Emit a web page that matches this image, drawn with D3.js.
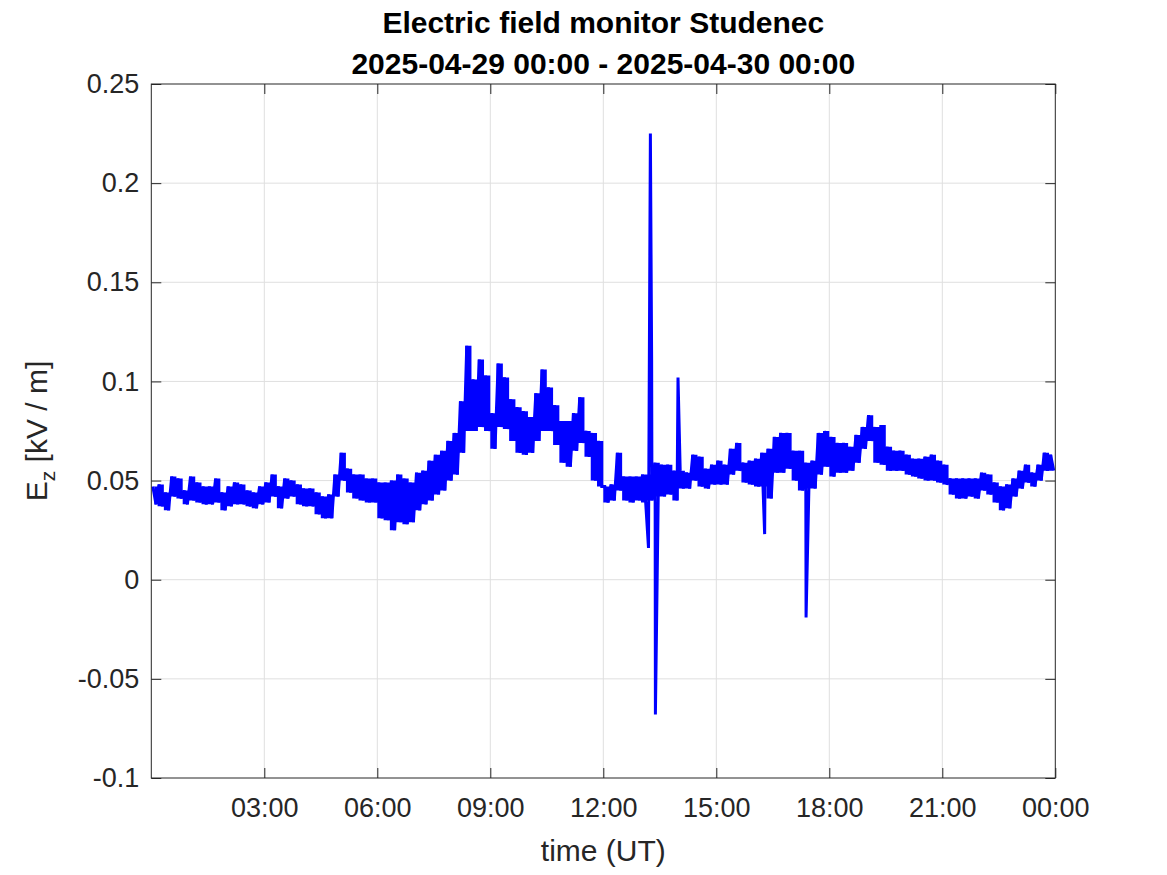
<!DOCTYPE html>
<html>
<head>
<meta charset="utf-8">
<script src="https://cdn.jsdelivr.net/npm/d3@7"></script>
<style>
  html, body { margin: 0; padding: 0; background: #fff; }
  svg { display: block; font-family: "Liberation Sans", Arial, Helvetica, sans-serif; }
</style>
</head>
<body>
<svg id="chart" width="1167" height="875"></svg>
<script>
// ---- Data ----
const titleLines = ["Electric field monitor Studenec", "2025-04-29 00:00 - 2025-04-30 00:00"];
const xLabel = "time (UT)";
const startTime = "2025-04-29T00:00:00Z";
const endTime = "2025-04-30T00:00:00Z";
const binMinutes = 10;   // each bin holds the upper and lower excursion of the Ez noise band

// Upper excursion of Ez per 10-minute bin (kV/m)
const ezHigh = [
  0.047,0.048,0.044,0.052,0.051,0.045,0.052,0.049,0.047,0.047,0.051,0.044,
  0.047,0.049,0.048,0.045,0.044,0.047,0.049,0.053,0.047,0.051,0.050,0.048,
  0.046,0.046,0.044,0.042,0.043,0.053,0.064,0.056,0.053,0.053,0.051,0.051,
  0.049,0.049,0.050,0.053,0.051,0.049,0.054,0.055,0.060,0.063,0.065,0.070,
  0.074,0.090,0.118,0.101,0.111,0.103,0.084,0.109,0.102,0.091,0.087,0.085,
  0.082,0.094,0.106,0.097,0.088,0.080,0.080,0.084,0.092,0.075,0.074,0.070,
  0.047,0.048,0.064,0.052,0.052,0.052,0.053,0.053,0.059,0.058,0.058,0.055,
  0.055,0.054,0.063,0.062,0.056,0.058,0.060,0.058,0.066,0.069,0.059,0.060,
  0.061,0.064,0.066,0.072,0.074,0.074,0.065,0.065,0.059,0.060,0.074,0.075,
  0.072,0.069,0.069,0.067,0.073,0.077,0.083,0.077,0.078,0.067,0.065,0.065,
  0.063,0.061,0.061,0.062,0.063,0.060,0.058,0.051,0.051,0.051,0.051,0.051,
  0.054,0.053,0.049,0.047,0.048,0.051,0.055,0.058,0.054,0.058,0.064,0.063
];
// Lower excursion of Ez per 10-minute bin (kV/m)
const ezLow = [
  0.038,0.037,0.035,0.042,0.041,0.038,0.040,0.039,0.038,0.038,0.039,0.035,
  0.037,0.038,0.038,0.037,0.036,0.038,0.039,0.042,0.036,0.041,0.042,0.038,
  0.037,0.037,0.033,0.031,0.031,0.042,0.050,0.044,0.041,0.040,0.039,0.039,
  0.031,0.030,0.025,0.029,0.028,0.029,0.035,0.038,0.040,0.043,0.045,0.050,
  0.053,0.064,0.075,0.075,0.077,0.075,0.066,0.077,0.076,0.070,0.064,0.063,
  0.064,0.070,0.075,0.075,0.068,0.059,0.057,0.065,0.069,0.062,0.050,0.047,
  0.039,0.040,0.045,0.040,0.039,0.040,0.039,0.040,0.042,0.042,0.043,0.040,
  0.046,0.046,0.050,0.047,0.046,0.048,0.048,0.048,0.053,0.055,0.049,0.048,
  0.047,0.047,0.041,0.054,0.054,0.056,0.050,0.045,0.046,0.046,0.053,0.057,
  0.052,0.054,0.054,0.055,0.059,0.066,0.070,0.059,0.058,0.055,0.055,0.055,
  0.053,0.052,0.051,0.050,0.050,0.049,0.048,0.043,0.041,0.041,0.042,0.041,
  0.045,0.043,0.039,0.035,0.036,0.042,0.046,0.049,0.047,0.050,0.055,0.055
];
// Isolated short excursions (UT time, kV/m)
const spikeTimes  = ["13:12", "13:15", "13:17", "13:23", "13:59", "16:17", "17:23"];
const spikeValues = [0.016, 0.225, 0.111, -0.068, 0.102, 0.023, -0.019];

const yTicks = [-0.1, -0.05, 0, 0.05, 0.1, 0.15, 0.2, 0.25];
const yTickLabels = ["-0.1", "-0.05", "0", "0.05", "0.1", "0.15", "0.2", "0.25"];
const yDomain = [-0.1, 0.25];

// ---- Layout ----
const svg = d3.select("#chart");
const L = 151.3, R = 1055.3, T = 84, B = 778;
const axisColor = "#262626";
const gridColor = "#dfdfdf";
const lineColor = "#0000ff";
const tickFont = 27;

const t0 = new Date(startTime), t1 = new Date(endTime);
const x = d3.scaleUtc().domain([t0, t1]).range([L, R]);
const y = d3.scaleLinear().domain(yDomain).range([B, T]);
const xTicks = d3.utcHour.every(3).range(new Date(+t0 + 1), new Date(+t1 + 1));
const fmt = d3.utcFormat("%H:%M");
const parseHM = d3.utcParse("%Y-%m-%d %H:%M");
const day = d3.utcFormat("%Y-%m-%d")(t0);

// band (one column per bin)
const band = ezHigh.map((h, i) => ({
  t: new Date(+t0 + (i + 0.5) * binMinutes * 60000), hi: h, lo: ezLow[i]
}));
// line samples: high then low inside each bin, plus the isolated excursions
const series = [];
ezHigh.forEach((h, i) => {
  const base = +t0 + i * binMinutes * 60000;
  series.push({ t: new Date(base + 2.5 * 60000), v: h });
  series.push({ t: new Date(base + 7.5 * 60000), v: ezLow[i] });
});
spikeTimes.forEach((s, i) => series.push({ t: parseHM(day + " " + s), v: spikeValues[i] }));
series.sort((a, b) => a.t - b.t);

// grid
const grid = svg.append("g");
grid.selectAll("line.vg").data(xTicks.filter(d => +d < +t1)).join("line")
  .attr("x1", d => x(d)).attr("x2", d => x(d)).attr("y1", T).attr("y2", B)
  .attr("stroke", gridColor).attr("stroke-width", 1);
grid.selectAll("line.hg").data(yTicks.filter(d => d > yDomain[0] && d < yDomain[1])).join("line")
  .attr("x1", L).attr("x2", R).attr("y1", d => y(d)).attr("y2", d => y(d))
  .attr("stroke", gridColor).attr("stroke-width", 1);

// axes (ticks inward, on all four sides)
function styleAxis(g) {
  g.select(".domain").remove();
  g.selectAll(".tick line").attr("stroke", axisColor).attr("stroke-width", 1);
  g.selectAll(".tick text").attr("fill", axisColor).attr("font-size", tickFont)
    .attr("font-family", "'Liberation Sans', Arial, Helvetica, sans-serif");
}
svg.append("g").attr("transform", `translate(0,${B})`)
  .call(d3.axisBottom(x).tickValues(xTicks).tickFormat(fmt).tickSize(-10).tickPadding(20))
  .call(styleAxis);
svg.append("g").attr("transform", `translate(0,${T})`)
  .call(d3.axisTop(x).tickValues(xTicks).tickFormat("").tickSize(-10))
  .call(styleAxis);
svg.append("g").attr("transform", `translate(${L},0)`)
  .call(d3.axisLeft(y).tickValues(yTicks).tickFormat((d, i) => yTickLabels[i]).tickSize(-10).tickPadding(12))
  .call(styleAxis);
svg.append("g").attr("transform", `translate(${R},0)`)
  .call(d3.axisRight(y).tickValues(yTicks).tickFormat("").tickSize(-10))
  .call(styleAxis);

// noise band
svg.append("path").datum(band)
  .attr("fill", lineColor).attr("stroke", "none")
  .attr("d", d3.area().curve(d3.curveStep).x(d => x(d.t)).y0(d => y(d.lo)).y1(d => y(d.hi)));
// data line
svg.append("path").datum(series)
  .attr("fill", "none").attr("stroke", lineColor).attr("stroke-width", 3)
  .attr("stroke-linejoin", "miter").attr("stroke-miterlimit", 2)
  .attr("d", d3.line().x(d => x(d.t)).y(d => y(d.v)));

// box
svg.append("rect").attr("x", L).attr("y", T).attr("width", R - L).attr("height", B - T)
  .attr("fill", "none").attr("stroke", axisColor).attr("stroke-width", 1);

// title
svg.append("text").attr("x", (L + R) / 2).attr("y", 33).attr("text-anchor", "middle")
  .attr("font-size", 30).attr("font-weight", "bold").attr("fill", "#000").text(titleLines[0]);
svg.append("text").attr("x", (L + R) / 2).attr("y", 74).attr("text-anchor", "middle")
  .attr("font-size", 30).attr("font-weight", "bold").attr("fill", "#000").text(titleLines[1]);

// x label
svg.append("text").attr("x", (L + R) / 2).attr("y", 861).attr("text-anchor", "middle")
  .attr("font-size", 30).attr("fill", axisColor).text(xLabel);

// y label
const yl = svg.append("text").attr("transform", `translate(47,${(T + B) / 2}) rotate(-90)`)
  .attr("text-anchor", "middle").attr("font-size", 30).attr("fill", axisColor);
yl.append("tspan").text("E");
yl.append("tspan").attr("font-size", 21).attr("dy", 8).text("z");
yl.append("tspan").attr("dy", -8).text(" [kV / m]");
</script>
</body>
</html>
